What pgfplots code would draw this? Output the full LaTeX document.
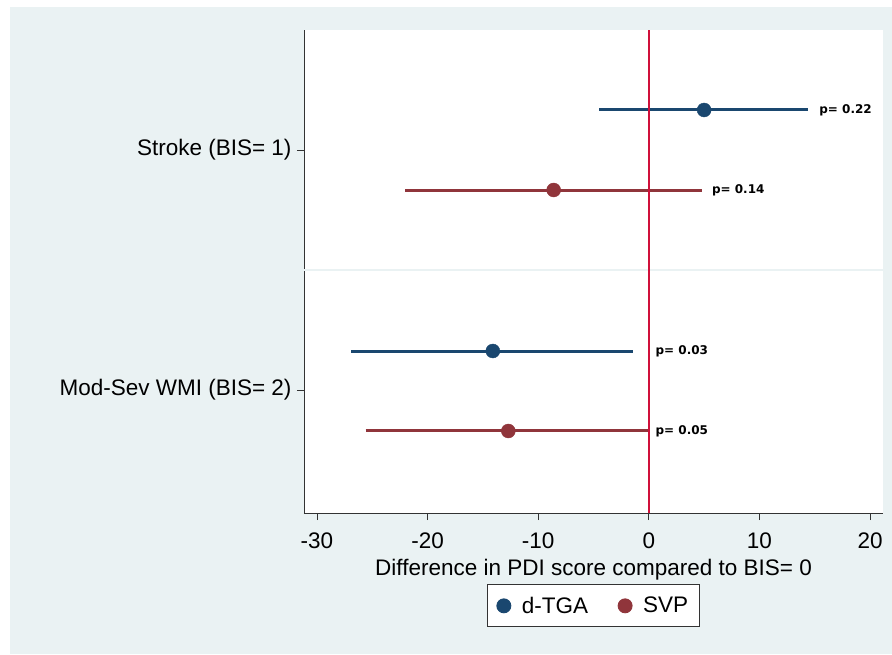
\documentclass[border=0pt]{standalone}
\usepackage{fontspec}
\setmainfont{Liberation Sans}
\newfontfamily\plab{DejaVu Sans}
\usepackage{pgfplots}
\pgfplotsset{compat=1.18}
\definecolor{bgc}{HTML}{EAF2F3}
\definecolor{navyc}{HTML}{1A476F}
\definecolor{maroonc}{HTML}{90353B}
\definecolor{redl}{HTML}{D0103A}
\definecolor{axc}{HTML}{333333}
\begin{document}
\begin{tikzpicture}[x=1pt,y=1pt]
\path[use as bounding box] (-304,-141) rectangle (588,513);
\fill[bgc] (-294,-141) rectangle (588,506);
\begin{axis}[
  at={(0,0)}, anchor=south west,
  scale only axis, width=579pt, height=483pt,
  xmin=-31.17, xmax=21.17, ymin=0.4875, ymax=2.5,
  axis background/.style={fill=white},
  axis x line*=bottom, axis y line*=left,
  axis line style={axc, line width=0.9pt, -},
  xtick={-30,-20,...,20},
  ytick={1,2}, yticklabels={{Mod-Sev WMI (BIS= 2)},{Stroke (BIS= 1)}},
  tick style={axc, line width=0.8pt},
  tick align=outside, major tick length=7pt,
  /pgf/number format/assume math mode=true,
  ticklabel style={font=\fontsize{22.5}{26}\selectfont, text=black},
  xticklabel style={yshift=-9pt},
  yticklabel style={xshift=-2pt},
  extra y ticks={1.5}, extra y tick labels={},
  extra y tick style={grid=major, major tick length=0pt, grid style={bgc, line width=1.2pt}},
  xlabel={Difference in PDI score compared to BIS= 0},
  xlabel style={font=\fontsize{22.5}{26}\selectfont, yshift=-4pt},
  legend style={at={(0.5,-0.148)}, anchor=north, legend columns=2,
    draw=axc, line width=0.9pt, fill=white,
    font=\fontsize{22.5}{26}\selectfont,
    /tikz/every even column/.append style={column sep=28pt},
    /tikz/every odd column/.append style={column sep=9pt},
    inner xsep=9pt, inner ysep=10pt},
  legend cell align=left,
  clip=false,
]
% confidence intervals
\addplot[navyc, line width=3pt, forget plot] coordinates {(-4.5,2.1667) (14.4,2.1667)};
\addplot[maroonc, line width=3pt, forget plot] coordinates {(-22.0,1.8333) (4.8,1.8333)};
\addplot[navyc, line width=3pt, forget plot] coordinates {(-26.9,1.1625) (-1.4,1.1625)};
\addplot[maroonc, line width=3pt, forget plot] coordinates {(-25.6,0.8292) (-0.1,0.8292)};
% reference line
\addplot[redl, line width=1.8pt, forget plot] coordinates {(0,0.4875) (0,2.5)};
% point estimates
\addplot[only marks, mark=*, mark size=7pt, navyc, mark options={fill=navyc, draw=navyc}] coordinates {(5.0,2.1667) (-14.1,1.1625)};
\addlegendentry{d-TGA}
\addplot[only marks, mark=*, mark size=7pt, maroonc, mark options={fill=maroonc, draw=maroonc}] coordinates {(-8.6,1.8333) (-12.7,0.8292)};
\addlegendentry{SVP}
% p-values
\node[anchor=west, font=\plab\bfseries\fontsize{12}{14}\selectfont, inner sep=0pt] at (axis cs:15.4,2.1667) {p= 0.22};
\node[anchor=west, font=\plab\bfseries\fontsize{12}{14}\selectfont, inner sep=0pt] at (axis cs:5.7,1.8333) {p= 0.14};
\node[anchor=west, font=\plab\bfseries\fontsize{12}{14}\selectfont, inner sep=0pt] at (axis cs:0.6,1.1625) {p= 0.03};
\node[anchor=west, font=\plab\bfseries\fontsize{12}{14}\selectfont, inner sep=0pt] at (axis cs:0.6,0.8292) {p= 0.05};
\end{axis}
\end{tikzpicture}
\end{document}
